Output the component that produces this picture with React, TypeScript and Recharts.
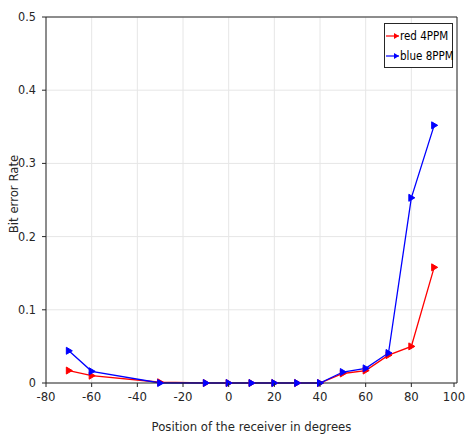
import { LineChart, Line, XAxis, YAxis, CartesianGrid, ReferenceLine } from "recharts"

const positions = [-70, -60, -30, -10, 0, 10, 20, 30, 40, 50, 60, 70, 80, 90]
const red4ppm = [0.017, 0.01, 0.001, 0, 0, 0, 0, 0, 0, 0.013, 0.017, 0.038, 0.05, 0.158]
const blue8ppm = [0.044, 0.016, 0, 0, 0, 0, 0, 0, 0, 0.015, 0.02, 0.041, 0.253, 0.352]
const xTicks = [-80, -60, -40, -20, 0, 20, 40, 60, 80, 100]
const yTicks = [0, 0.1, 0.2, 0.3, 0.4, 0.5]
const legendItems = [
  { label: "red 4PPM", color: "#ff0000" },
  { label: "blue 8PPM", color: "#0000ff" },
]

const data = positions.map((p, i) => ({ pos: p, red: red4ppm[i], blue: blue8ppm[i] }))

const FONT = "'DejaVu Sans Condensed', 'Liberation Sans Narrow', Arial, sans-serif"
const AXIS = "#262626"

function Tri(props: any) {
  const { cx, cy, stroke } = props
  if (cx == null || cy == null) return null
  return <polygon points={`${cx - 2.5},${cy - 3.5} ${cx + 3.5},${cy} ${cx - 2.5},${cy + 3.5}`} fill={stroke} stroke={stroke} />
}

function XTick(props: any) {
  const { x, y, payload } = props
  return (
    <g>
      <line x1={x} x2={x} y1={y - 4} y2={y - 8} stroke={AXIS} />
      <text x={x} y={y + 10} textAnchor="middle" fontSize={13} fontFamily={FONT} fill="#262626">
        {payload.value}
      </text>
    </g>
  )
}

function YTick(props: any) {
  const { x, y, payload } = props
  return (
    <g>
      <line x1={x + 4} x2={x + 8} y1={y} y2={y} stroke={AXIS} />
      <text x={x - 2} y={y + 4} textAnchor="end" fontSize={12.5} fontFamily={FONT} fill="#262626">
        {payload.value}
      </text>
    </g>
  )
}

function LegendBox() {
  return (
    <svg width={74} height={45} style={{ position: "absolute", left: 384, top: 23 }}>
      <rect x={0.5} y={0.5} width={68} height={44} fill="#fff" stroke={AXIS} />
      {legendItems.map((it, i) => {
        const y = 13 + i * 20
        return (
          <g key={it.label}>
            <line x1={2} x2={15} y1={y} y2={y} stroke={it.color} strokeWidth={1.2} />
            <polygon points={`${10},${y - 3} ${15},${y} ${10},${y + 3}`} fill={it.color} />
            <text x={16} y={y + 4} fontSize={11.5} fontFamily={FONT} fill="#000">
              {it.label}
            </text>
          </g>
        )
      })}
    </svg>
  )
}

export default function App() {
  return (
    <div style={{ position: "absolute", left: 0, top: 0, background: "#fff" }}>
      <LineChart width={466} height={434} data={data} margin={{ top: 17, right: 9, left: 0, bottom: 21 }}>
        <CartesianGrid stroke="#e6e6e6" strokeWidth={1} />
        <XAxis
          dataKey="pos"
          type="number"
          domain={[-80, 100]}
          ticks={xTicks}
          height={30}
          tickLine={false}
          stroke={AXIS}
          tick={<XTick />}
          label={{ value: "Position of the receiver in degrees", position: "insideBottom", offset: -18, fontSize: 13, fontFamily: FONT, fill: "#262626" }}
        />
        <YAxis
          type="number"
          domain={[0, 0.5]}
          ticks={yTicks}
          width={46}
          tickLine={false}
          stroke={AXIS}
          tick={<YTick />}
          label={{ value: "Bit error Rate", angle: -90, position: "insideLeft", offset: 13, dy: -6, fontSize: 13, fontFamily: FONT, fill: "#262626", style: { textAnchor: "middle" } }}
        />
        <ReferenceLine y={0.5} stroke={AXIS} />
        <ReferenceLine x={100} stroke={AXIS} />
        <Line dataKey="red" stroke="#ff0000" strokeWidth={1.3} dot={<Tri />} isAnimationActive={false} />
        <Line dataKey="blue" stroke="#0000ff" strokeWidth={1.3} dot={<Tri />} isAnimationActive={false} />
      </LineChart>
      <LegendBox />
    </div>
  )
}
